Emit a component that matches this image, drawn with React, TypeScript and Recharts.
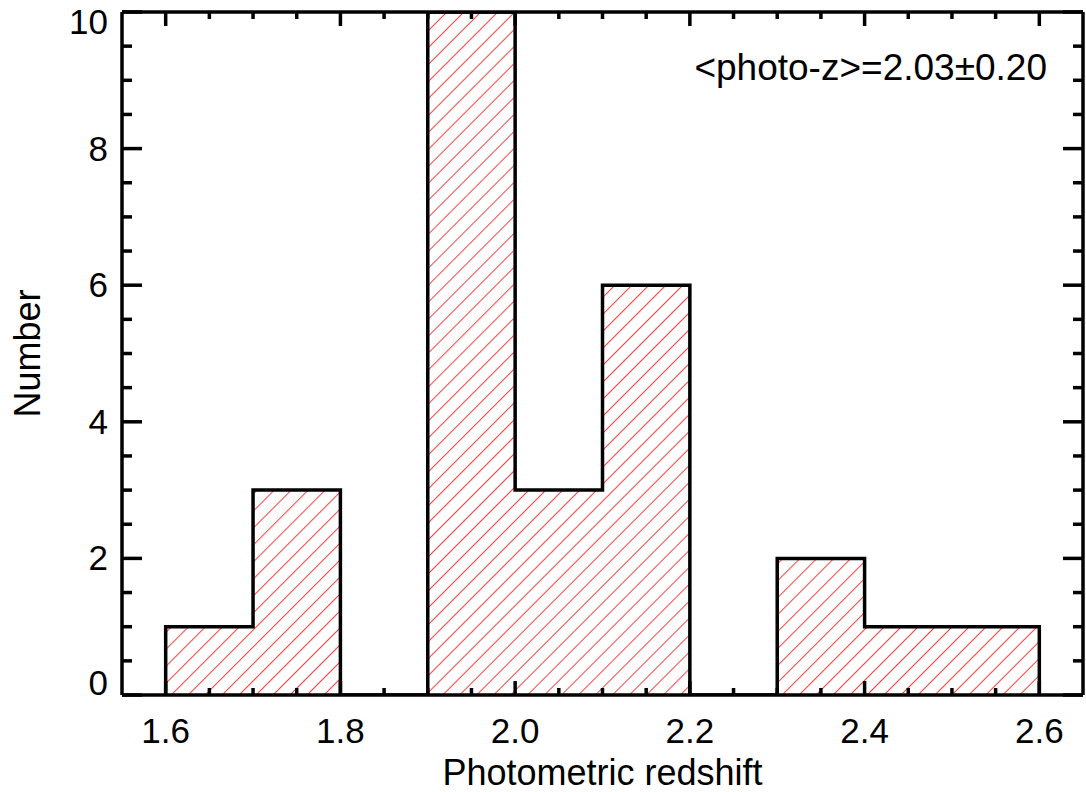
import { ComposedChart, Area, Line, XAxis, YAxis } from "recharts";

// histogram of photometric redshifts, bins of 0.1
const BIN_EDGES = [1.6, 1.7, 1.8, 1.9, 2.0, 2.1, 2.2, 2.3, 2.4, 2.5, 2.6];
const COUNTS = [1, 3, 0, 10, 3, 6, 0, 2, 1, 1];

const X_TICKS = [
  1.6, 1.65, 1.7, 1.75, 1.8, 1.85, 1.9, 1.95, 2.0, 2.05, 2.1, 2.15, 2.2, 2.25, 2.3, 2.35,
  2.4, 2.45, 2.5, 2.55, 2.6,
];
const X_LABELS = ["1.6", "1.8", "2.0", "2.2", "2.4", "2.6"];
const Y_TICKS = [0, 0.5, 1, 1.5, 2, 2.5, 3, 3.5, 4, 4.5, 5, 5.5, 6, 6.5, 7, 7.5, 8, 8.5, 9, 9.5, 10];
const Y_LABELS = ["0", "2", "4", "6", "8", "10"];

const ANNOTATION = "<photo-z>=2.03\u00b10.20";
const FONT = "'Liberation Sans', Arial, Helvetica, sans-serif";
const LW = 3.5;

// step outline: start at the baseline, walk each bin edge, drop back down at the end
const stepData = [
  { z: BIN_EDGES[0], count: 0 },
  ...COUNTS.map((c, i) => ({ z: BIN_EDGES[i], count: c })),
  { z: BIN_EDGES[BIN_EDGES.length - 1], count: COUNTS[COUNTS.length - 1] },
  { z: BIN_EDGES[BIN_EDGES.length - 1], count: 0 },
];

const xLabel = (v: number) => X_LABELS.find((l) => Math.abs(parseFloat(l) - v) < 1e-6);
const yLabel = (v: number) => Y_LABELS.find((l) => Math.abs(parseFloat(l) - v) < 1e-6);

const BottomTick = ({ x, y, payload }: any) => {
  const lab = xLabel(payload.value);
  return (
    <g>
      <line x1={x} x2={x} y1={y} y2={y - (lab ? 14 : 7)} stroke="#000" strokeWidth={LW} />
      {lab && (
        <text x={x} y={y + 48} textAnchor="middle" fontSize={35} fontFamily={FONT} fill="#000">
          {lab}
        </text>
      )}
    </g>
  );
};

const TopTick = ({ x, y, payload }: any) => {
  const major = xLabel(payload.value);
  return <line x1={x} x2={x} y1={y} y2={y + (major ? 14 : 7)} stroke="#000" strokeWidth={LW} />;
};

const LeftTick = ({ x, y, payload }: any) => {
  const lab = yLabel(payload.value);
  // end labels are nudged inside the axis range
  let dy = 12;
  if (payload.value === 0) dy = 0;
  if (payload.value === 10) dy = 22;
  return (
    <g>
      <line x1={x} x2={x + (lab ? 20 : 10)} y1={y} y2={y} stroke="#000" strokeWidth={LW} />
      {lab && (
        <text x={x - 14} y={y + dy} textAnchor="end" fontSize={35} fontFamily={FONT} fill="#000">
          {lab}
        </text>
      )}
    </g>
  );
};

const RightTick = ({ x, y, payload }: any) => {
  const major = yLabel(payload.value);
  return <line x1={x} x2={x - (major ? 20 : 10)} y1={y} y2={y} stroke="#000" strokeWidth={LW} />;
};

export default function App() {
  return (
    <div style={{ position: "absolute", left: 0, top: 0, background: "#fff" }}>
      <ComposedChart width={1086} height={792} data={stepData} margin={{ top: 11, right: 2, bottom: 0, left: 0 }}>
        <defs>
          <pattern id="hatch" patternUnits="userSpaceOnUse" width={12} height={12} patternTransform="rotate(45)">
            <line x1={0} y1={0} x2={0} y2={12} stroke="#ff0000" strokeWidth={1.5} />
          </pattern>
        </defs>
        <XAxis
          dataKey="z"
          type="number"
          domain={[1.55, 2.65]}
          ticks={X_TICKS}
          interval={0}
          height={97}
          tickLine={false}
          tickSize={0}
          tickMargin={0}
          tick={<BottomTick />}
          axisLine={{ stroke: "#000", strokeWidth: LW }}
          allowDataOverflow
          label={{
            value: "Photometric redshift",
            position: "insideBottom",
            offset: 7,
            style: { fontSize: 36, fontFamily: FONT, fill: "#000" },
          }}
        />
        <XAxis
          xAxisId="top"
          dataKey="z"
          orientation="top"
          type="number"
          domain={[1.55, 2.65]}
          ticks={X_TICKS}
          interval={0}
          height={1}
          tickLine={false}
          tickSize={0}
          tickMargin={0}
          tick={<TopTick />}
          axisLine={{ stroke: "#000", strokeWidth: LW }}
          allowDataOverflow
        />
        <YAxis
          type="number"
          domain={[0, 10]}
          ticks={Y_TICKS}
          interval={0}
          width={122}
          tickLine={false}
          tickSize={0}
          tickMargin={0}
          tick={<LeftTick />}
          axisLine={{ stroke: "#000", strokeWidth: LW }}
          allowDataOverflow
          label={{
            value: "Number",
            angle: -90,
            position: "insideLeft",
            offset: 27,
            style: { fontSize: 36, fontFamily: FONT, fill: "#000", textAnchor: "middle" },
          }}
        />
        <YAxis
          yAxisId="right"
          orientation="right"
          type="number"
          domain={[0, 10]}
          ticks={Y_TICKS}
          interval={0}
          width={1}
          tickLine={false}
          tickSize={0}
          tickMargin={0}
          tick={<RightTick />}
          axisLine={{ stroke: "#000", strokeWidth: LW }}
          allowDataOverflow
        />
        <Area
          type="stepAfter"
          dataKey="count"
          stroke="#000"
          strokeWidth={LW}
          fill="url(#hatch)"
          fillOpacity={1}
          dot={false}
          activeDot={false}
          isAnimationActive={false}
        />
        {/* invisible series so the top and right frame axes are drawn */}
        <Line
          xAxisId="top"
          yAxisId="right"
          dataKey="count"
          stroke="none"
          dot={false}
          activeDot={false}
          isAnimationActive={false}
        />
        <text x={1047} y={80} textAnchor="end" fontSize={37} fontFamily={FONT} fill="#000">
          {ANNOTATION}
        </text>
      </ComposedChart>
    </div>
  );
}
